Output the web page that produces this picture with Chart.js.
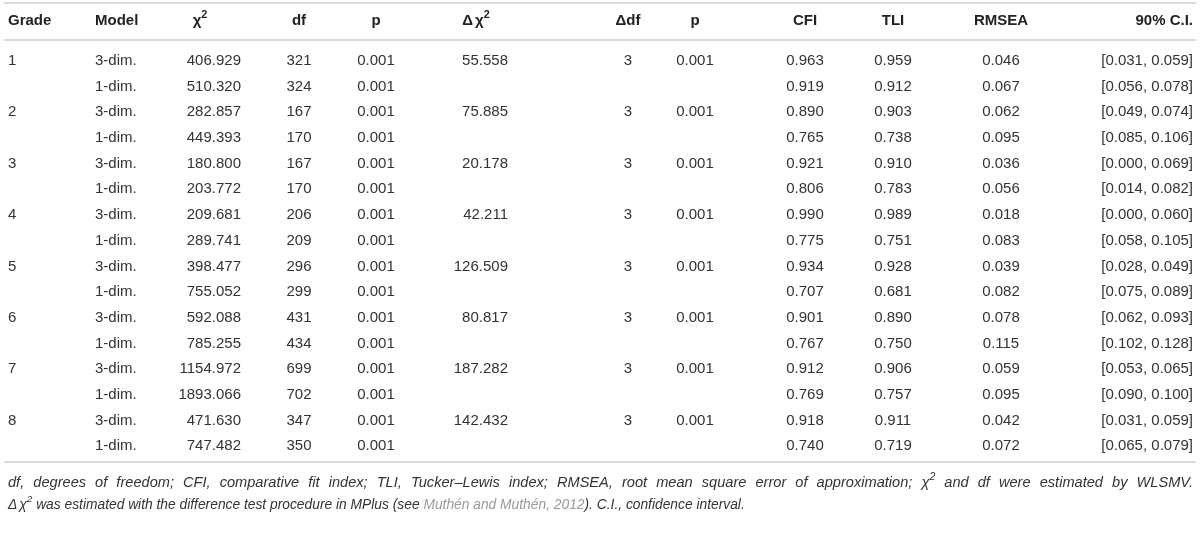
<!DOCTYPE html>
<html>
<head>
<meta charset="utf-8">
<script src="https://cdn.jsdelivr.net/npm/chart.js@4.4.1/dist/chart.umd.min.js"></script>
<style>
  html, body { margin: 0; padding: 0; background: #fff; }
  #wrap { width: 1200px; height: 541px; position: relative; }
</style>
</head>
<body>
<div id="wrap"><canvas id="fitTable"></canvas></div>
<script>
// table content
const grades = ["1", "2", "3", "4", "5", "6", "7", "8"];
const models = ["3-dim.", "1-dim."];
const headers = ["Grade", "Model", "χ^2", "df", "p", "Δ~χ^2", "Δdf", "p", "CFI", "TLI", "RMSEA", "90% C.I."];

// one value per row (grade x model)
const chiSq = [406.929, 510.320, 282.857, 449.393, 180.800, 203.772, 209.681, 289.741,
  398.477, 755.052, 592.088, 785.255, 1154.972, 1893.066, 471.630, 747.482];
const df = [321, 324, 167, 170, 167, 170, 206, 209, 296, 299, 431, 434, 699, 702, 347, 350];
const pChi = [0.001, 0.001, 0.001, 0.001, 0.001, 0.001, 0.001, 0.001,
  0.001, 0.001, 0.001, 0.001, 0.001, 0.001, 0.001, 0.001];
const cfi = [0.963, 0.919, 0.890, 0.765, 0.921, 0.806, 0.990, 0.775,
  0.934, 0.707, 0.901, 0.767, 0.912, 0.769, 0.918, 0.740];
const tli = [0.959, 0.912, 0.903, 0.738, 0.910, 0.783, 0.989, 0.751,
  0.928, 0.681, 0.890, 0.750, 0.906, 0.757, 0.911, 0.719];
const rmsea = [0.046, 0.067, 0.062, 0.095, 0.036, 0.056, 0.018, 0.083,
  0.039, 0.082, 0.078, 0.115, 0.059, 0.095, 0.042, 0.072];
const ciLow = [0.031, 0.056, 0.049, 0.085, 0.000, 0.014, 0.000, 0.058,
  0.028, 0.075, 0.062, 0.102, 0.053, 0.090, 0.031, 0.065];
const ciHigh = [0.059, 0.078, 0.074, 0.106, 0.069, 0.082, 0.060, 0.105,
  0.049, 0.089, 0.093, 0.128, 0.065, 0.100, 0.059, 0.079];

// one value per grade (difference test, 3-dim vs 1-dim)
const deltaChi = [55.558, 75.885, 20.178, 42.211, 126.509, 80.817, 187.282, 142.432];
const deltaDf = [3, 3, 3, 3, 3, 3, 3, 3];
const pDelta = [0.001, 0.001, 0.001, 0.001, 0.001, 0.001, 0.001, 0.001];

const footLines = [
  "df, degrees of freedom; CFI, comparative fit index; TLI, Tucker–Lewis index; RMSEA, root mean square error of approximation; χ^2 and df were estimated by WLSMV.",
  "Δ~χ^2 was estimated with the difference test procedure in MPlus (see {Muthén and Muthén, 2012}). C.I., confidence interval."
];

// layout
const colX = [8, 95, 241, 299, 376, 508, 628, 695, 805, 893, 1001, 1193];
const colAlign = ["left", "left", "right", "center", "center", "right", "center", "center", "center", "center", "center", "right"];
const headX = [8, 95, 200, 299, 376, 476, 628, 695, 805, 893, 1001, 1193];
const headAlign = ["left", "left", "center", "center", "center", "center", "center", "center", "center", "center", "center", "right"];
const rowStep = 25.67, firstRowY = 61;
const headRow = -1.55;
const ruleRows = [-2.26, -0.82, 15.62];
const footRows = [16.44, 17.3];

const fmt3 = v => v.toFixed(3);
const nRows = grades.length * models.length;
const rowCells = [];
for (let r = 0; r < nRows; r++) {
  const g = Math.floor(r / 2), first = r % 2 === 0;
  rowCells.push([
    first ? grades[g] : "",
    models[r % 2],
    fmt3(chiSq[r]),
    String(df[r]),
    fmt3(pChi[r]),
    first ? fmt3(deltaChi[g]) : "",
    first ? String(deltaDf[g]) : "",
    first ? fmt3(pDelta[g]) : "",
    fmt3(cfi[r]),
    fmt3(tli[r]),
    fmt3(rmsea[r]),
    "[" + fmt3(ciLow[r]) + ", " + fmt3(ciHigh[r]) + "]"
  ]);
}

const FONT = "'Liberation Sans', Arial, sans-serif";

// one invisible scatter dataset per column; points carry their text
const datasets = headers.map((h, c) => ({
  label: h,
  data: [{ x: headX[c], y: headRow, text: h, align: headAlign[c], head: true }].concat(
    rowCells.map((cells, r) => ({ x: colX[c], y: r, text: cells[c], align: colAlign[c] }))
  ),
  pointRadius: 0,
  pointHoverRadius: 0
}));

// text with ^2 superscripts, ~ small gaps and {grey link} parts
function richParts(str) {
  const parts = [];
  const re = /(\^2)|(~)|\{([^}]*)\}|([^\^{~]+)/g;
  let m;
  while ((m = re.exec(str))) {
    if (m[1]) parts.push({ t: "2", sup: true });
    else if (m[2]) parts.push({ t: "", gap: 2 });
    else if (m[3] !== undefined) parts.push({ t: m[3], link: true });
    else parts.push({ t: m[4] });
  }
  return parts;
}

function setFont(ctx, size, weight, style) {
  ctx.font = (style || "") + " " + (weight || "") + " " + size + "px " + FONT;
}

function partWidth(ctx, p, size, weight, style) {
  if (p.gap) return p.gap;
  setFont(ctx, p.sup ? size * 0.72 : size, weight, style);
  return ctx.measureText(p.t).width;
}

function drawRich(ctx, str, x, y, align, size, weight, style, color) {
  const parts = richParts(str);
  const w = parts.reduce((s, p) => s + partWidth(ctx, p, size, weight, style), 0);
  let cx = align === "right" ? x - w : align === "center" ? x - w / 2 : x;
  ctx.textAlign = "left";
  ctx.textBaseline = "middle";
  parts.forEach(p => {
    if (p.gap) { cx += p.gap; return; }
    setFont(ctx, p.sup ? size * 0.72 : size, weight, style);
    ctx.fillStyle = p.link ? "#9a9a9a" : color;
    ctx.fillText(p.t, cx, p.sup ? y - size * 0.4 : y);
    cx += ctx.measureText(p.t).width;
  });
}

// justified line: spread words between left and right
function drawJustified(ctx, str, left, right, y, size, style, color) {
  const words = str.split(" ");
  const widths = words.map(w => richParts(w).reduce((s, p) => s + partWidth(ctx, p, size, "", style), 0));
  const total = widths.reduce((a, b) => a + b, 0);
  const gap = (right - left - total) / (words.length - 1);
  let cx = left;
  words.forEach((w, i) => {
    drawRich(ctx, w, cx, y, "left", size, "", style, color);
    cx += widths[i] + gap;
  });
}

const tableText = {
  id: "tableText",
  afterDatasetsDraw(chart) {
    const ctx = chart.ctx;
    ctx.save();
    chart.data.datasets.forEach((ds, i) => {
      const meta = chart.getDatasetMeta(i);
      meta.data.forEach((pt, j) => {
        const d = ds.data[j];
        if (!d.text) return;
        if (d.head) drawRich(ctx, d.text, pt.x, pt.y, d.align, 15, "bold", "", "#222");
        else drawRich(ctx, d.text, pt.x, pt.y, d.align, 15, "", "", "#333");
      });
    });
    const ys = chart.scales.y;
    drawJustified(ctx, footLines[0], 8, 1193, ys.getPixelForValue(footRows[0]), 14.6, "italic", "#333");
    drawRich(ctx, footLines[1], 8, ys.getPixelForValue(footRows[1]), "left", 13.8, "", "italic", "#333");
    ctx.restore();
  }
};

new Chart(document.getElementById("fitTable"), {
  type: "scatter",
  data: { datasets: datasets },
  options: {
    responsive: true,
    maintainAspectRatio: false,
    animation: false,
    events: [],
    layout: { padding: { left: 4, right: 4, top: 0, bottom: 0 } },
    plugins: { legend: { display: false }, tooltip: { enabled: false } },
    scales: {
      x: { type: "linear", display: false, min: 4, max: 1196 },
      y: {
        type: "linear",
        reverse: true,
        min: -firstRowY / rowStep,
        max: (541 - firstRowY) / rowStep,
        afterBuildTicks: axis => { axis.ticks = ruleRows.map(v => ({ value: v })); },
        afterFit: axis => { axis.width = 0; },
        ticks: { display: false },
        border: { display: false },
        grid: { color: "#d9d9d9", lineWidth: 2, drawTicks: false }
      }
    }
  },
  plugins: [tableText]
});
</script>
</body>
</html>
